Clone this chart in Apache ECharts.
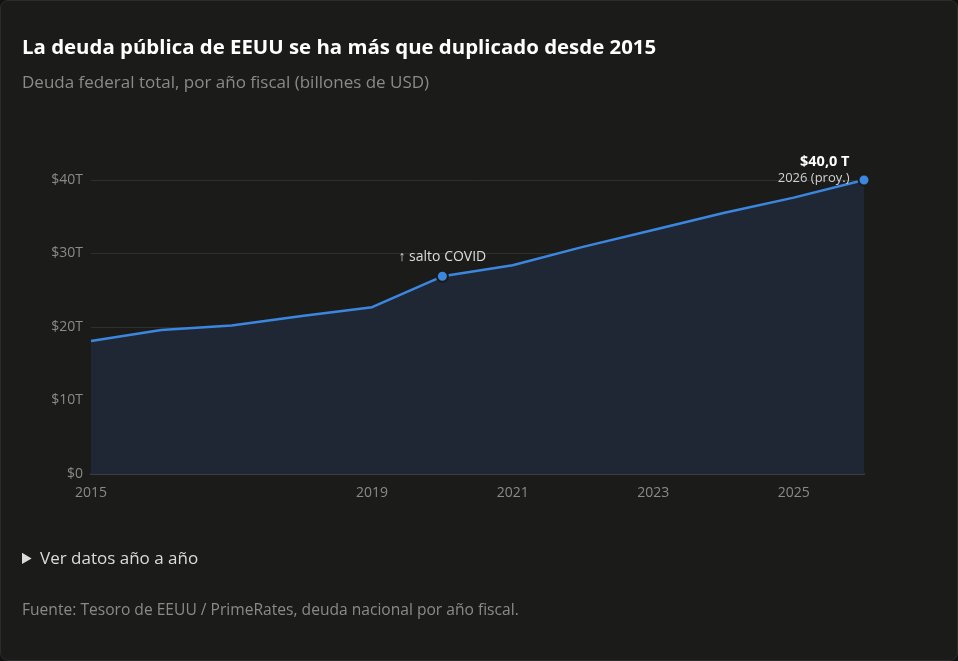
<!DOCTYPE html>
<html>
<head>
<meta charset="utf-8">
<script src="https://cdn.jsdelivr.net/npm/echarts@6/dist/echarts.min.js"></script>
<style>
  html, body { margin: 0; padding: 0; background: #121212; width: 958px; height: 661px; overflow: hidden; }
  .card { position: absolute; left: 0; top: 0; width: 956px; height: 659px; background: #1b1b1a; border: 1px solid #2c2c2c; border-radius: 8px; font-family: "Open Sans", "Noto Sans", sans-serif; }
  #chart { position: absolute; left: 0; top: 0; width: 958px; height: 661px; }
  h1 { position: absolute; left: 21px; top: 31px; margin: 0; font-size: 20.4px; line-height: 28px; font-weight: 700; color: #ffffff; }
  .sub { position: absolute; left: 21px; top: 69px; margin: 0; font-size: 17px; line-height: 24px; color: #8a8a8a; }
  details { position: absolute; left: 21px; top: 545px; font-size: 17px; line-height: 24px; color: #dcdcdc; }
  summary { cursor: pointer; }
  .src { position: absolute; left: 21px; top: 597px; font-size: 15.6px; line-height: 22px; color: #8a8a8a; margin: 0; }
</style>
</head>
<body>
<div class="card">
  <div id="chart"></div>
  <h1>La deuda pública de EEUU se ha más que duplicado desde 2015</h1>
  <p class="sub">Deuda federal total, por año fiscal (billones de USD)</p>
  <details><summary>Ver datos año a año</summary></details>
  <p class="src">Fuente: Tesoro de EEUU / PrimeRates, deuda nacional por año fiscal.</p>
</div>
<script>
const years = [2015, 2016, 2017, 2018, 2019, 2020, 2021, 2022, 2023, 2024, 2025, 2026];
const debt = [18.1, 19.6, 20.2, 21.5, 22.7, 26.9, 28.4, 30.9, 33.2, 35.5, 37.6, 40.0];
const xTickLabels = ['2015', '2019', '2021', '2023', '2025'];
const yTicks = [0, 10, 20, 30, 40];
const covidYear = 2020;
const lastYear = 2026;

const chart = echarts.init(document.getElementById('chart'));
const data = years.map((y, i) => {
  const item = { value: [y, debt[i]] };
  if (y === covidYear) {
    item.label = { show: true, position: 'top', distance: 6, formatter: '↑ salto COVID', color: '#dcdcdc', fontSize: 14, fontFamily: 'Open Sans' };
  }
  if (y === lastYear) {
    item.label = {
      show: true, position: 'left', distance: 8, offset: [0, -10], align: 'right',
      formatter: '{a|$' + debt[i].toFixed(1).replace('.', ',') + ' T}\n{b|' + y + ' (proy.)}',
      rich: {
        a: { color: '#ffffff', fontSize: 14.5, fontWeight: 'bold', fontFamily: 'Open Sans', align: 'right', lineHeight: 17 },
        b: { color: '#cfcfcf', fontSize: 13, fontFamily: 'Open Sans', align: 'right', lineHeight: 16 }
      }
    };
  }
  return item;
});

chart.setOption({
  animation: false,
  grid: { left: 90, right: 95, top: 179, height: 294, containLabel: false },
  xAxis: {
    type: 'value', min: 2015, max: 2026, interval: 1,
    axisLine: { show: true, lineStyle: { color: '#3a3f46', width: 2 } },
    axisTick: { show: false },
    splitLine: { show: false },
    axisLabel: {
      color: '#8a8a8a', fontSize: 14, fontFamily: 'Open Sans', margin: 12,
      formatter: v => xTickLabels.includes(String(v)) ? String(v) : ''
    }
  },
  yAxis: {
    type: 'value', min: yTicks[0], max: yTicks[yTicks.length - 1], interval: 10,
    axisLine: { show: false }, axisTick: { show: false },
    splitLine: { lineStyle: { color: '#2e2f30', width: 1 } },
    axisLabel: { color: '#8a8a8a', fontSize: 14, fontFamily: 'Open Sans', margin: 8, formatter: v => '$' + v + (v === 0 ? '' : 'T') }
  },
  series: [{
    type: 'line',
    data: data,
    symbol: 'circle',
    showSymbol: true,
    symbolSize: (v) => (v[0] === covidYear || v[0] === lastYear) ? 11 : 0,
    itemStyle: { color: '#3b87e0', borderColor: '#1b1b1a', borderWidth: 2 },
    lineStyle: { color: '#3b87e0', width: 2.5 },
    areaStyle: { color: '#1e2733', opacity: 1 },
    z: 3
  }]
});
</script>
</body>
</html>
